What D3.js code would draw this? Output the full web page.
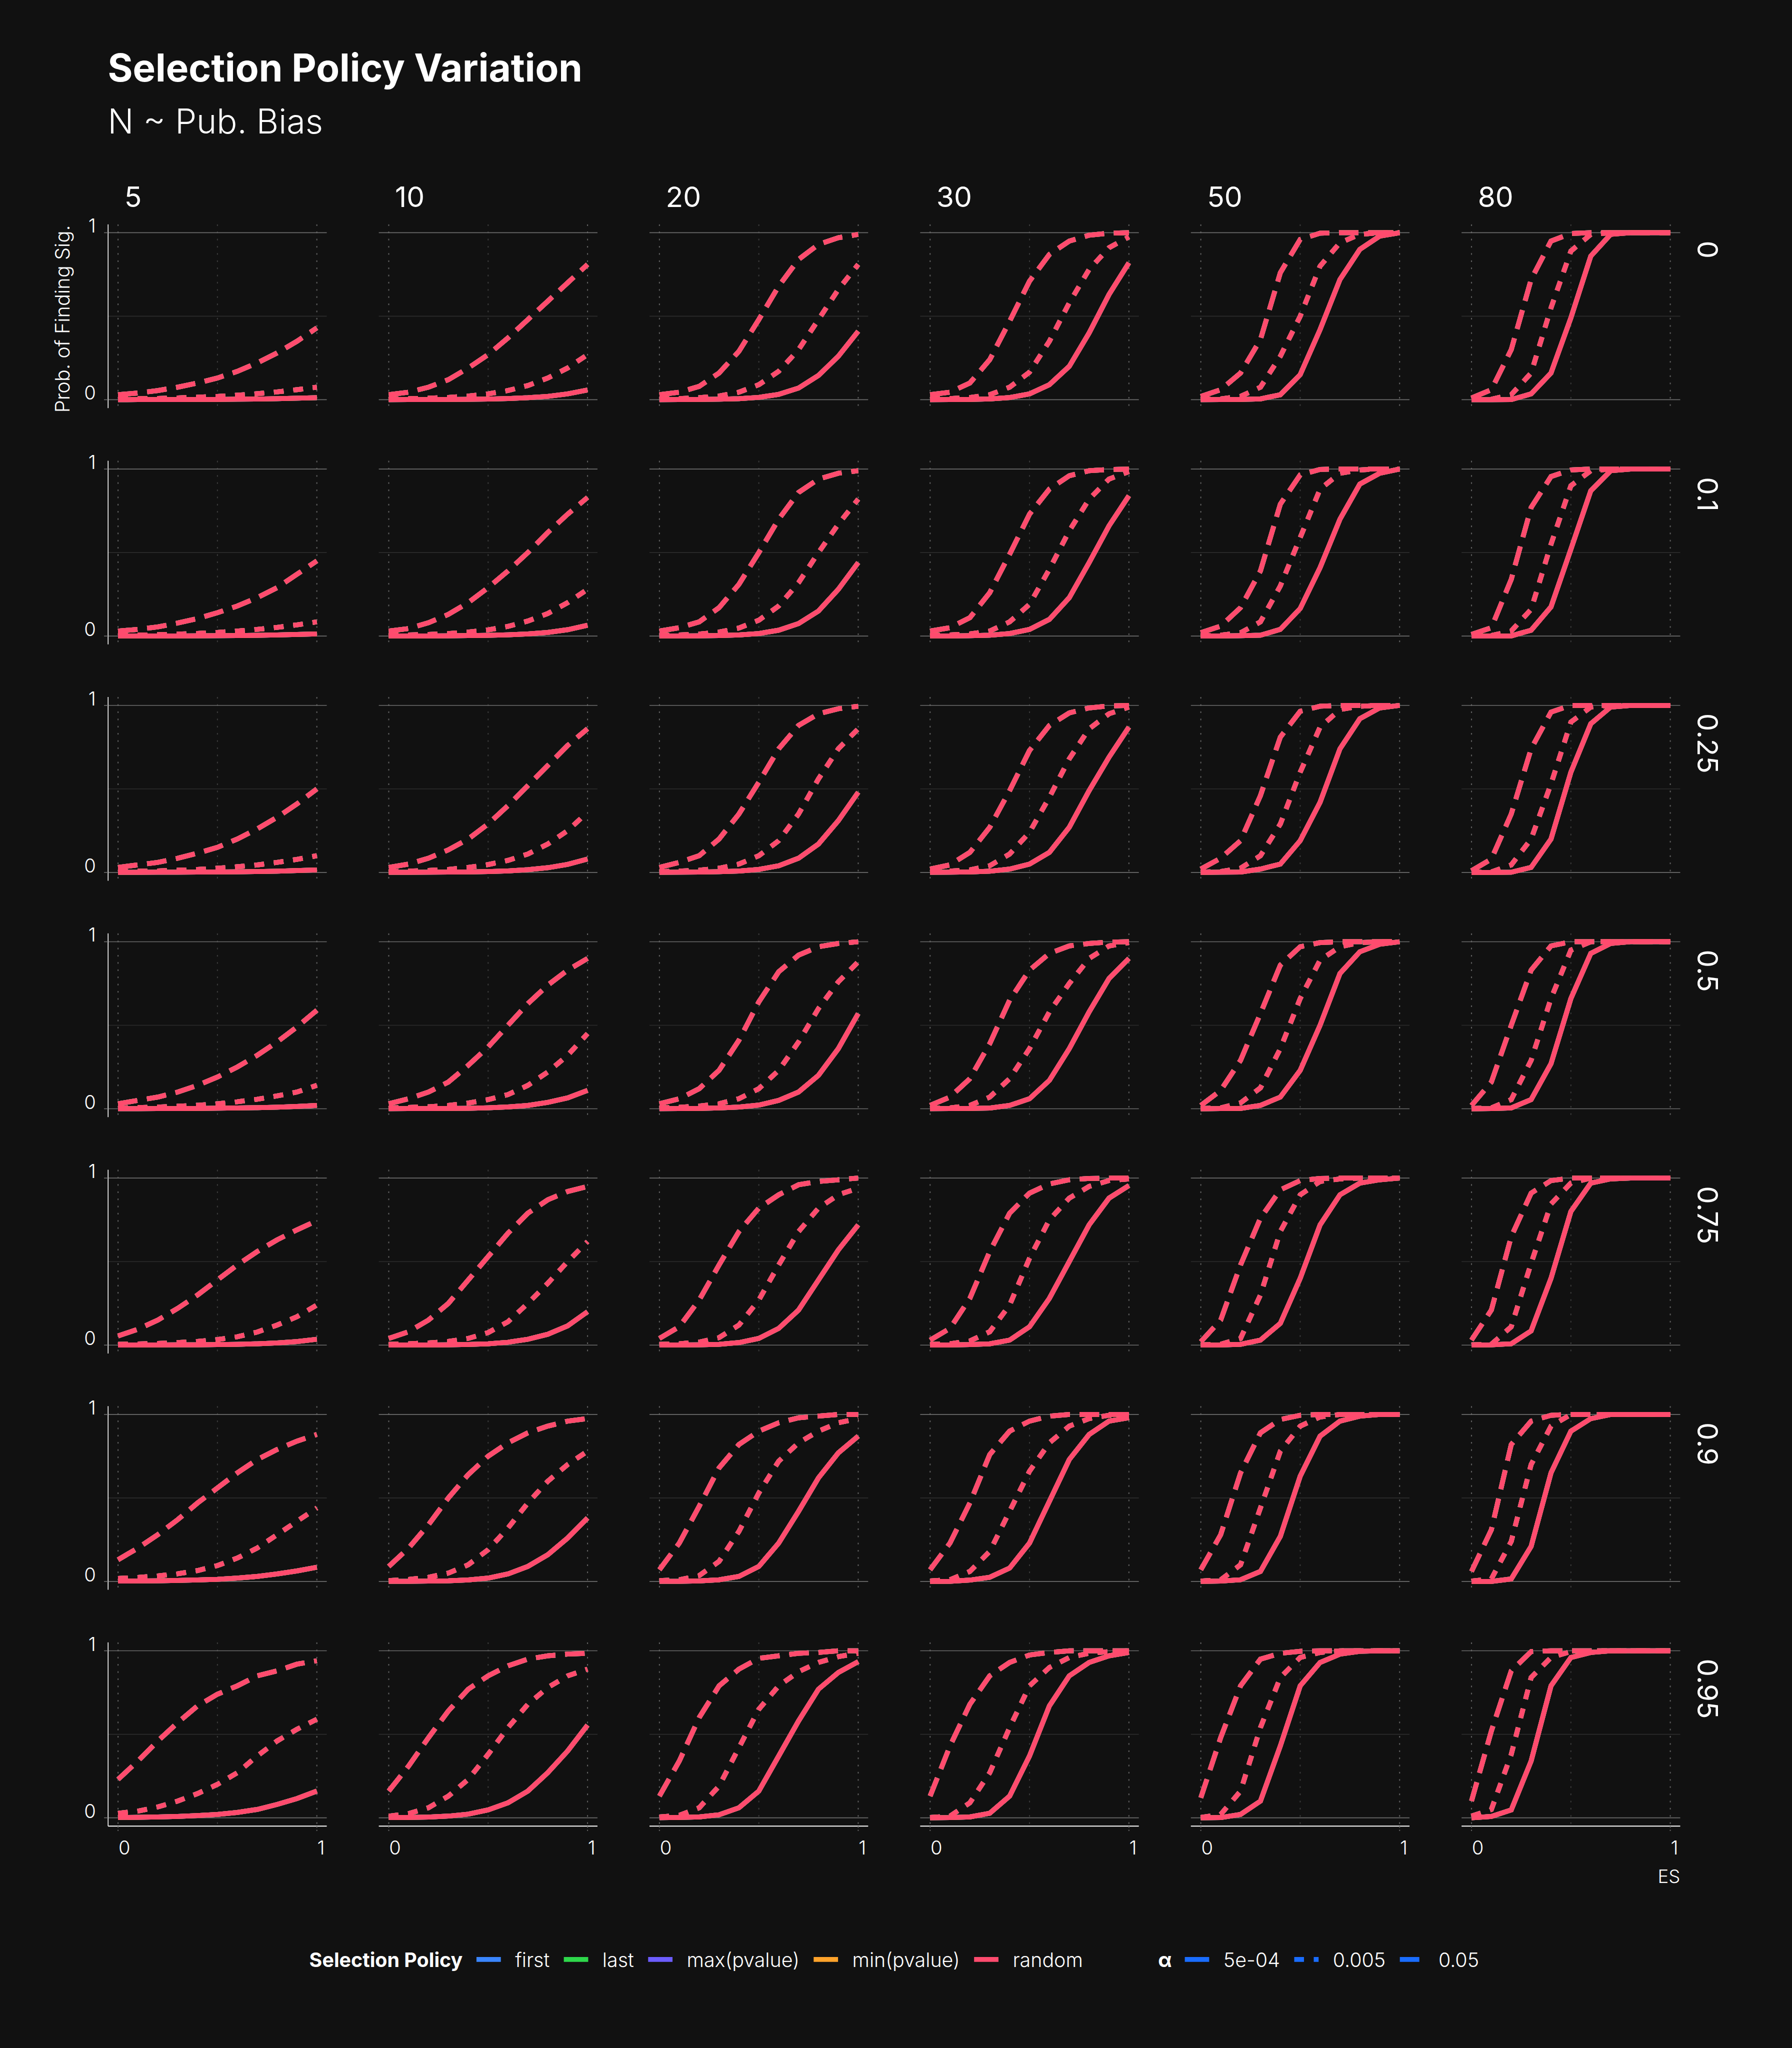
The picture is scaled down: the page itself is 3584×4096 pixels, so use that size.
<!DOCTYPE html>
<html><head><meta charset="utf-8">
<script src="https://cdn.jsdelivr.net/npm/d3@7/dist/d3.min.js"></script>
<style>html,body{margin:0;padding:0;background:#111111;}svg{display:block;}</style>
</head><body>
<script>
// ---------- data ----------
const ES = [0,0.1,0.2,0.3,0.4,0.5,0.6,0.7,0.8,0.9,1];
const sampleSizes = ["5","10","20","30","50","80"];
const pubBias = ["0","0.1","0.25","0.5","0.75","0.9","0.95"];
const policies = ["first","last","max(pvalue)","min(pvalue)","random"];
const policyColors = ["#3a86ff","#2ed84b","#6c5cff","#ffa32b","#ff4b6e"];
const alphaLevels = ["5e-04","0.005","0.05"];
const alphaDash = ["none","24 24","48 24"];
const xTicks = [0,1];
const yTicks = [0,1];

// each array: one row per sample size (5,10,20,30,50,80), values along ES
const bias0_a0005 = [
 [0.0005,0.0006,0.0008,0.001,0.0015,0.002,0.003,0.004,0.006,0.009,0.012],
 [0.0005,0.0007,0.001,0.0015,0.0025,0.004,0.007,0.012,0.02,0.035,0.058],
 [0.0005,0.0008,0.0015,0.003,0.006,0.014,0.032,0.07,0.145,0.26,0.41],
 [0.0005,0.001,0.002,0.005,0.013,0.035,0.09,0.2,0.4,0.63,0.82],
 [0,0.001,0.002,0.005,0.03,0.15,0.42,0.72,0.9,0.98,1],
 [0,0,0.001,0.035,0.16,0.49,0.86,0.99,1,1,1]];
const bias0_a005 = [
 [0.005,0.006,0.008,0.011,0.015,0.02,0.027,0.036,0.047,0.06,0.075],
 [0.005,0.006,0.009,0.014,0.022,0.035,0.055,0.085,0.13,0.19,0.27],
 [0.005,0.007,0.012,0.022,0.045,0.09,0.17,0.3,0.48,0.66,0.81],
 [0.005,0.007,0.013,0.03,0.075,0.165,0.35,0.58,0.78,0.91,0.975],
 [0.003,0.005,0.02,0.075,0.26,0.5,0.8,0.94,0.99,1,1],
 [0.001,0.003,0.03,0.16,0.55,0.89,0.99,1,1,1,1]];
const bias0_a05 = [
 [0.03,0.04,0.055,0.075,0.1,0.13,0.17,0.22,0.28,0.35,0.43],
 [0.03,0.045,0.075,0.12,0.19,0.27,0.37,0.48,0.59,0.7,0.81],
 [0.03,0.045,0.08,0.16,0.29,0.48,0.68,0.84,0.93,0.97,0.99],
 [0.03,0.045,0.1,0.24,0.47,0.71,0.87,0.95,0.985,0.997,1],
 [0.02,0.06,0.16,0.36,0.76,0.96,0.997,1,1,1,1],
 [0.01,0.06,0.3,0.72,0.95,0.995,1,1,1,1,1]];

const bias01_a0005 = [
 [0.0005,0.0006,0.0008,0.0011,0.0016,0.0023,0.0033,0.0047,0.0067,0.0095,0.013],
 [0.0005,0.0007,0.001,0.0016,0.0027,0.0045,0.0075,0.013,0.022,0.038,0.065],
 [0.0005,0.001,0.0015,0.003,0.007,0.015,0.035,0.075,0.15,0.28,0.44],
 [0.0005,0.001,0.002,0.005,0.015,0.04,0.1,0.23,0.44,0.66,0.84],
 [0,0.001,0.002,0.005,0.04,0.165,0.41,0.7,0.91,0.975,1],
 [0,0,0.001,0.035,0.175,0.52,0.87,0.99,1,1,1]];
const bias01_a005 = [
 [0.005,0.006,0.008,0.012,0.016,0.022,0.03,0.04,0.052,0.067,0.085],
 [0.005,0.007,0.01,0.015,0.024,0.037,0.058,0.09,0.135,0.2,0.28],
 [0.005,0.007,0.012,0.024,0.048,0.095,0.18,0.32,0.5,0.67,0.82],
 [0.005,0.007,0.013,0.03,0.085,0.19,0.4,0.63,0.82,0.94,0.985],
 [0.003,0.005,0.02,0.085,0.3,0.59,0.88,0.975,0.995,1,1],
 [0.001,0.003,0.03,0.16,0.55,0.9,0.99,1,1,1,1]];
const bias01_a05 = [
 [0.03,0.04,0.055,0.078,0.105,0.14,0.18,0.23,0.29,0.37,0.45],
 [0.03,0.045,0.08,0.13,0.2,0.29,0.39,0.5,0.62,0.73,0.83],
 [0.03,0.05,0.085,0.17,0.31,0.5,0.7,0.86,0.94,0.975,0.99],
 [0.03,0.05,0.11,0.26,0.49,0.73,0.88,0.96,0.99,0.997,1],
 [0.02,0.06,0.17,0.39,0.79,0.965,0.998,1,1,1,1],
 [0.01,0.05,0.34,0.77,0.955,0.995,1,1,1,1,1]];

const bias025_a0005 = [
 [0.0005,0.0007,0.001,0.0013,0.0018,0.0026,0.0037,0.0053,0.0075,0.011,0.015],
 [0.0005,0.0008,0.0012,0.002,0.003,0.005,0.009,0.016,0.028,0.048,0.08],
 [0.0005,0.001,0.002,0.004,0.008,0.018,0.04,0.085,0.17,0.31,0.48],
 [0.0005,0.001,0.003,0.007,0.02,0.05,0.12,0.27,0.49,0.69,0.87],
 [0,0.001,0.002,0.02,0.05,0.19,0.42,0.74,0.92,0.985,1],
 [0,0,0.001,0.03,0.2,0.6,0.89,0.99,1,1,1]];
const bias025_a005 = [
 [0.005,0.007,0.009,0.013,0.018,0.025,0.034,0.045,0.06,0.078,0.1],
 [0.005,0.008,0.012,0.018,0.03,0.047,0.072,0.11,0.17,0.25,0.36],
 [0.005,0.008,0.013,0.025,0.05,0.1,0.19,0.35,0.56,0.74,0.86],
 [0.005,0.008,0.015,0.04,0.11,0.24,0.45,0.68,0.86,0.95,0.99],
 [0.002,0.005,0.025,0.1,0.29,0.6,0.87,0.975,0.995,1,1],
 [0.001,0.003,0.045,0.2,0.53,0.9,0.99,1,1,1,1]];
const bias025_a05 = [
 [0.03,0.045,0.06,0.085,0.115,0.15,0.2,0.26,0.33,0.41,0.5],
 [0.03,0.05,0.085,0.135,0.2,0.29,0.4,0.52,0.64,0.76,0.86],
 [0.03,0.06,0.1,0.2,0.35,0.54,0.74,0.88,0.95,0.98,0.995],
 [0.02,0.045,0.12,0.27,0.49,0.73,0.88,0.955,0.985,0.997,1],
 [0.02,0.085,0.19,0.46,0.81,0.965,0.995,1,1,1,1],
 [0.01,0.08,0.35,0.74,0.96,1,1,1,1,1,1]];

const bias05_a0005 = [
 [0.0005,0.0007,0.001,0.0015,0.0022,0.0032,0.0046,0.0066,0.0095,0.014,0.02],
 [0.0005,0.0008,0.0012,0.002,0.003,0.006,0.011,0.02,0.038,0.065,0.11],
 [0.0005,0.001,0.002,0.005,0.01,0.022,0.05,0.1,0.2,0.36,0.57],
 [0.0005,0.001,0.002,0.004,0.02,0.06,0.17,0.36,0.58,0.78,0.9],
 [0,0.001,0.002,0.02,0.07,0.23,0.5,0.81,0.94,0.985,1],
 [0,0.001,0.005,0.055,0.27,0.66,0.93,0.99,1,1,1]];
const bias05_a005 = [
 [0.005,0.007,0.01,0.015,0.021,0.03,0.042,0.057,0.077,0.1,0.14],
 [0.005,0.008,0.012,0.02,0.034,0.055,0.085,0.14,0.22,0.32,0.45],
 [0.005,0.009,0.016,0.03,0.06,0.12,0.23,0.4,0.6,0.76,0.88],
 [0.003,0.005,0.02,0.07,0.18,0.36,0.58,0.75,0.9,0.975,0.995],
 [0.002,0.005,0.035,0.125,0.36,0.66,0.89,0.97,0.995,1,1],
 [0.002,0.005,0.055,0.29,0.66,0.95,1,1,1,1,1]];
const bias05_a05 = [
 [0.03,0.05,0.07,0.1,0.14,0.19,0.25,0.32,0.4,0.49,0.59],
 [0.03,0.06,0.1,0.16,0.26,0.37,0.5,0.63,0.74,0.83,0.9],
 [0.03,0.06,0.12,0.23,0.41,0.64,0.82,0.92,0.97,0.99,1],
 [0.02,0.07,0.18,0.39,0.65,0.83,0.93,0.975,0.99,0.998,1],
 [0.02,0.11,0.29,0.57,0.86,0.97,0.995,1,1,1,1],
 [0.02,0.16,0.5,0.83,0.975,1,1,1,1,1,1]];

const bias075_a0005 = [
 [0.0005,0.0007,0.001,0.0015,0.002,0.003,0.005,0.008,0.013,0.021,0.035],
 [0.0005,0.0008,0.0012,0.002,0.004,0.008,0.017,0.035,0.065,0.115,0.2],
 [0.0005,0.001,0.002,0.005,0.015,0.04,0.1,0.21,0.39,0.57,0.72],
 [0.0005,0.001,0.003,0.008,0.03,0.11,0.28,0.5,0.72,0.88,0.955],
 [0,0.001,0.005,0.03,0.13,0.4,0.72,0.9,0.97,0.99,1],
 [0,0.002,0.008,0.085,0.4,0.8,0.97,0.995,1,1,1]];
const bias075_a005 = [
 [0.005,0.007,0.01,0.015,0.022,0.033,0.05,0.078,0.12,0.17,0.24],
 [0.005,0.008,0.013,0.022,0.04,0.075,0.14,0.25,0.37,0.5,0.62],
 [0.005,0.008,0.018,0.045,0.12,0.27,0.48,0.68,0.82,0.9,0.94],
 [0.005,0.008,0.025,0.08,0.24,0.52,0.75,0.88,0.95,0.985,0.995],
 [0.002,0.005,0.04,0.3,0.68,0.9,0.98,0.995,1,1,1],
 [0.002,0.005,0.11,0.49,0.845,0.97,1,1,1,1,1]];
const bias075_a05 = [
 [0.055,0.095,0.15,0.22,0.3,0.39,0.48,0.56,0.63,0.69,0.745],
 [0.04,0.08,0.15,0.25,0.39,0.53,0.67,0.79,0.87,0.92,0.95],
 [0.04,0.11,0.27,0.48,0.68,0.82,0.9,0.96,0.98,0.99,1],
 [0.03,0.1,0.28,0.56,0.79,0.91,0.965,0.99,0.998,1,1],
 [0.02,0.15,0.48,0.76,0.93,0.985,0.998,1,1,1,1],
 [0.03,0.21,0.65,0.91,0.985,1,1,1,1,1,1]];

const bias09_a0005 = [
 [0.002,0.003,0.004,0.006,0.009,0.013,0.02,0.03,0.045,0.063,0.085],
 [0.0005,0.001,0.002,0.004,0.009,0.02,0.045,0.09,0.16,0.26,0.38],
 [0.0005,0.001,0.003,0.01,0.03,0.09,0.23,0.42,0.62,0.77,0.87],
 [0,0.001,0.008,0.025,0.08,0.23,0.48,0.73,0.88,0.96,0.98],
 [0,0.002,0.01,0.06,0.27,0.63,0.87,0.96,0.99,1,1],
 [0,0,0.015,0.21,0.65,0.9,0.975,1,1,1,1]];
const bias09_a005 = [
 [0.018,0.024,0.033,0.046,0.065,0.095,0.14,0.2,0.28,0.36,0.44],
 [0.005,0.012,0.025,0.05,0.1,0.19,0.32,0.47,0.6,0.7,0.78],
 [0.005,0.01,0.035,0.12,0.3,0.53,0.72,0.83,0.9,0.95,0.975],
 [0.003,0.01,0.06,0.18,0.42,0.66,0.83,0.93,0.975,0.995,1],
 [0.002,0.01,0.1,0.44,0.78,0.93,0.985,1,1,1,1],
 [0.002,0.015,0.24,0.7,0.93,1,1,1,1,1,1]];
const bias09_a05 = [
 [0.13,0.2,0.28,0.37,0.47,0.56,0.65,0.73,0.79,0.84,0.88],
 [0.09,0.2,0.34,0.5,0.64,0.75,0.83,0.89,0.93,0.96,0.975],
 [0.07,0.23,0.45,0.68,0.82,0.9,0.95,0.98,0.99,1,1],
 [0.07,0.23,0.47,0.76,0.9,0.96,0.99,1,1,1,1],
 [0.07,0.28,0.65,0.89,0.97,0.995,1,1,1,1,1],
 [0.06,0.31,0.82,0.96,0.995,1,1,1,1,1,1]];

const bias095_a0005 = [
 [0.002,0.003,0.005,0.008,0.013,0.02,0.032,0.05,0.08,0.115,0.16],
 [0.001,0.002,0.004,0.01,0.022,0.047,0.09,0.16,0.27,0.4,0.555],
 [0.0005,0.002,0.005,0.018,0.06,0.16,0.37,0.58,0.77,0.87,0.935],
 [0,0.001,0.005,0.027,0.13,0.37,0.67,0.85,0.93,0.97,0.99],
 [0,0.001,0.02,0.1,0.43,0.79,0.93,0.98,0.997,1,1],
 [0,0.008,0.047,0.34,0.79,0.96,0.99,1,1,1,1]];
const bias095_a005 = [
 [0.027,0.04,0.065,0.1,0.145,0.2,0.27,0.37,0.46,0.53,0.59],
 [0.01,0.025,0.06,0.13,0.23,0.38,0.54,0.68,0.78,0.85,0.89],
 [0.005,0.015,0.06,0.19,0.42,0.65,0.79,0.875,0.93,0.965,0.985],
 [0.002,0.01,0.09,0.27,0.54,0.79,0.9,0.96,0.985,0.995,1],
 [0.002,0.02,0.16,0.54,0.84,0.96,0.99,1,1,1,1],
 [0.01,0.05,0.38,0.84,0.96,0.995,1,1,1,1,1]];
const bias095_a05 = [
 [0.23,0.34,0.46,0.57,0.67,0.74,0.79,0.85,0.88,0.92,0.94],
 [0.16,0.31,0.48,0.64,0.77,0.85,0.91,0.95,0.97,0.98,0.985],
 [0.13,0.34,0.6,0.79,0.89,0.955,0.97,0.985,0.99,1,1],
 [0.13,0.43,0.68,0.85,0.93,0.975,0.99,1,1,1,1],
 [0.12,0.48,0.79,0.95,0.985,0.997,1,1,1,1,1],
 [0.1,0.52,0.88,0.995,1,1,1,1,1,1,1]];

// table built from the arrays above: [biasRow][alpha][N][ES]
const powerTable = [
 [bias0_a0005, bias0_a005, bias0_a05],
 [bias01_a0005, bias01_a005, bias01_a05],
 [bias025_a0005, bias025_a005, bias025_a05],
 [bias05_a0005, bias05_a005, bias05_a05],
 [bias075_a0005, bias075_a005, bias075_a05],
 [bias09_a0005, bias09_a005, bias09_a05],
 [bias095_a0005, bias095_a005, bias095_a05]];

// ---------- layout (reference pixel units, scaled to window) ----------
const W = 3584, H = 4096, K = 3584/4409;
const FONT = "Inter, 'Noto Sans', sans-serif";
const panelW = 538, panelH = 452;
const left0 = 266, top0 = 552, colStep = 666, rowStep = 581.5;

const svg = d3.select("body").append("svg").attr("width", W).attr("height", H);
svg.append("rect").attr("width", W).attr("height", H).attr("fill", "#111111");
const root = svg.append("g").attr("transform", `scale(${K})`).style("font-family", FONT);

root.append("text").attr("x", 265).attr("y", 201).attr("font-size", 94).attr("font-weight", 700)
  .attr("fill", "#ffffff").text("Selection Policy Variation");
root.append("text").attr("x", 265).attr("y", 328).attr("font-size", 84).attr("font-weight", 300)
  .attr("fill", "#ffffff").text("N ~ Pub. Bias");

const x = d3.scaleLinear().domain([-0.05, 1.05]).range([0, panelW]);
const y = d3.scaleLinear().domain([-0.05, 1.05]).range([panelH, 0]);
const line = d3.line().x((d, i) => x(ES[i])).y(d => y(d));

pubBias.forEach((pb, r) => {
  sampleSizes.forEach((n, c) => {
    const g = root.append("g").attr("transform", `translate(${left0 + c*colStep},${top0 + r*rowStep})`);
    // vertical dotted grid
    [0, 0.5, 1].forEach(v => {
      g.append("line").attr("x1", x(v)).attr("x2", x(v)).attr("y1", 0).attr("y2", panelH)
        .attr("stroke", v === 0.5 ? "#3a3a3a" : "#5e5e5e").attr("stroke-width", 2.6)
        .attr("stroke-dasharray", "4 13.7");
    });
    // horizontal grid
    [0.5, 0, 1].forEach(v => {
      g.append("line").attr("x1", 0).attr("x2", panelW).attr("y1", y(v)).attr("y2", y(v))
        .attr("stroke", v === 0.5 ? "#2c2c2c" : "#6c6c6c").attr("stroke-width", 2);
    });
    // y axis
    if (c === 0) {
      g.append("line").attr("x1", 0).attr("x2", 0).attr("y1", 0).attr("y2", panelH)
        .attr("stroke", "#ffffff").attr("stroke-width", 2);
      yTicks.forEach(v => {
        g.append("line").attr("x1", -10).attr("x2", 0).attr("y1", y(v)).attr("y2", y(v))
          .attr("stroke", "#6c6c6c").attr("stroke-width", 2);
        g.append("text").attr("x", -30).attr("y", y(v)).attr("text-anchor", "end")
          .attr("font-size", 47).attr("font-weight", 300).attr("fill", "#ffffff").text(v);
      });
    }
    // x axis
    if (r === pubBias.length - 1) {
      g.append("line").attr("x1", 0).attr("x2", panelW).attr("y1", panelH).attr("y2", panelH)
        .attr("stroke", "#ffffff").attr("stroke-width", 2.5);
      xTicks.forEach(v => {
        g.append("line").attr("x1", x(v)).attr("x2", x(v)).attr("y1", panelH).attr("y2", panelH + 12)
          .attr("stroke", "#5e5e5e").attr("stroke-width", 2.6).attr("stroke-dasharray", "4 5");
        g.append("text").attr("x", x(v) + 1).attr("y", panelH + 70).attr("text-anchor", "start")
          .attr("font-size", 47).attr("font-weight", 300).attr("fill", "#ffffff").text(v);
      });
    }
    // column strip
    if (r === 0) {
      g.append("text").attr("x", 40).attr("y", -43).attr("font-size", 70).attr("font-weight", 400)
        .attr("fill", "#ffffff").text(n);
    }
    // row strip
    if (c === sampleSizes.length - 1) {
      g.append("text").attr("transform", `translate(${panelW + 43},40) rotate(90)`)
        .attr("font-size", 70).attr("font-weight", 400).attr("fill", "#ffffff").text(pb);
    }
    // data lines
    policies.forEach((p, pi) => {
      alphaLevels.forEach((a, ai) => {
        g.append("path").attr("d", line(powerTable[r][ai][c])).attr("fill", "none")
          .attr("stroke", policyColors[pi]).attr("stroke-width", 12)
          .attr("stroke-dasharray", alphaDash[ai]).attr("stroke-linecap", "butt");
      });
    });
  });
});

// axis titles
root.append("text").attr("transform", `translate(171,${top0 + 2}) rotate(-90)`).attr("text-anchor", "end")
  .attr("font-size", 49).attr("font-weight", 300).attr("fill", "#ffffff").text("Prob. of Finding Sig.");
root.append("text").attr("x", left0 + 5*colStep + panelW).attr("y", 4633).attr("text-anchor", "end")
  .attr("font-size", 45).attr("font-weight", 300).attr("fill", "#ffffff").text("ES");

// legend
const leg = root.append("g");
const legY = 4840, keyY = 4821, keyW = 60;
let lx = 0;
function addText(t, bold) {
  const el = leg.append("text").attr("x", lx).attr("y", legY).attr("font-size", 48.5)
    .attr("font-weight", bold ? 700 : 300).attr("fill", "#ffffff").text(t);
  lx += el.node().getComputedTextLength();
}
function addKey(color, dash) {
  leg.append("line").attr("x1", lx).attr("x2", lx + keyW).attr("y1", keyY).attr("y2", keyY)
    .attr("stroke", color).attr("stroke-width", 12).attr("stroke-dasharray", dash);
  lx += keyW;
}
addText("Selection Policy", true); lx += 34;
policies.forEach((p, i) => { addKey(policyColors[i], "none"); lx += 35; addText(p, false); if (i < policies.length - 1) lx += 35; });
lx += 185;
addText("α", true); lx += 32;
alphaLevels.forEach((a, i) => { addKey("#1a6dff", alphaDash[i]); lx += 35; addText(a, false); if (i < alphaLevels.length - 1) lx += 35; });
leg.attr("transform", `translate(${2200 - lx/2},0)`);
</script>
</body></html>
